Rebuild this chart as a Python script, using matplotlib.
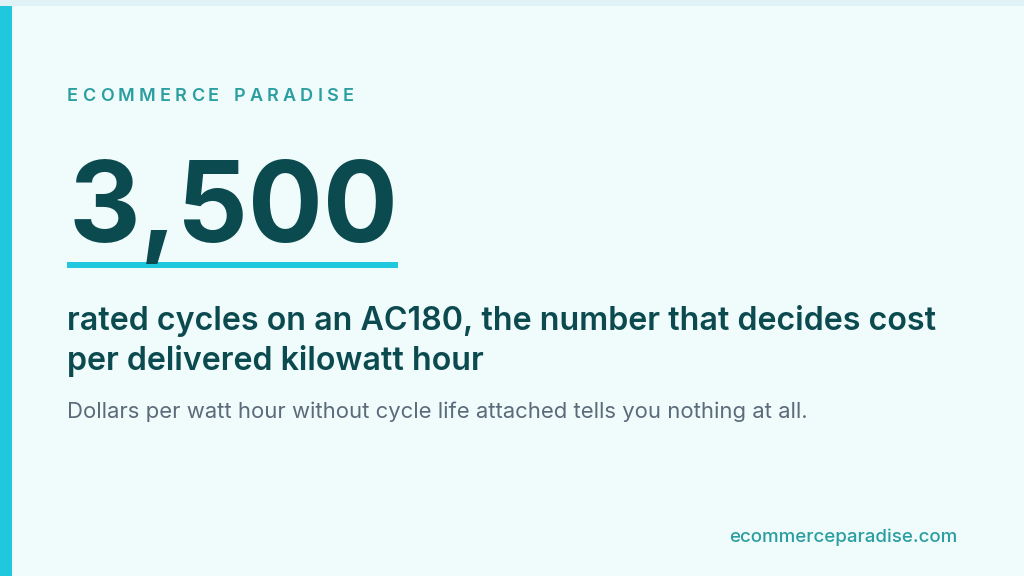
import matplotlib
matplotlib.use("Agg")
import matplotlib.pyplot as plt
from matplotlib.patches import Rectangle

brand = "ECOMMERCE PARADISE"
stat_value = "3,500"
headline_lines = ["rated cycles on an AC180, the number that decides cost",
                  "per delivered kilowatt hour"]
subtitle = "Dollars per watt hour without cycle life attached tells you nothing at all."
footer = "ecommerceparadise.com"

BG = "#f0fbfc"
STRIP = "#dff3f6"
CYAN = "#1fc8dc"
DARK = "#0b4a4f"
TEAL = "#2a9ea0"
GRAY = "#5b6b7a"

plt.rcParams['font.family'] = ['Inter', 'DejaVu Sans']

W, H = 1024, 576
fig = plt.figure(figsize=(W / 100, H / 100), dpi=100)
fig.patch.set_facecolor(BG)
ax = fig.add_axes([0, 0, 1, 1])
ax.set_xlim(0, W)
ax.set_ylim(H, 0)
ax.axis("off")

ax.add_patch(Rectangle((0, 0), W, 6, color=STRIP, lw=0))
ax.add_patch(Rectangle((0, 6), 12, H - 6, color=CYAN, lw=0))

renderer = fig.canvas.get_renderer()

# letter-spaced brand label
x = 67
tracking = 4.2
for ch in brand:
    t = ax.text(x, 101, ch, fontsize=13, fontweight="semibold", color=TEAL,
                va="baseline", ha="left")
    if ch == " ":
        w = 6
    else:
        w = t.get_window_extent(renderer).width
    x += w + tracking

ax.text(68, 242, stat_value, fontsize=80, fontweight="bold", color=DARK,
        va="baseline", ha="left")
ax.add_patch(Rectangle((67, 262), 331, 6, color=CYAN, lw=0))

for i, line in enumerate(headline_lines):
    ax.text(67, 330 + 40 * i, line, fontsize=23.2, fontweight="semibold",
            color=DARK, va="baseline", ha="left")

ax.text(67, 418, subtitle, fontsize=15.9, color=GRAY, va="baseline", ha="left")
ax.text(957, 542, footer, fontsize=13.5, fontweight="medium", color=TEAL,
        va="baseline", ha="right")

fig.savefig("out.png", dpi=100, facecolor=BG)
